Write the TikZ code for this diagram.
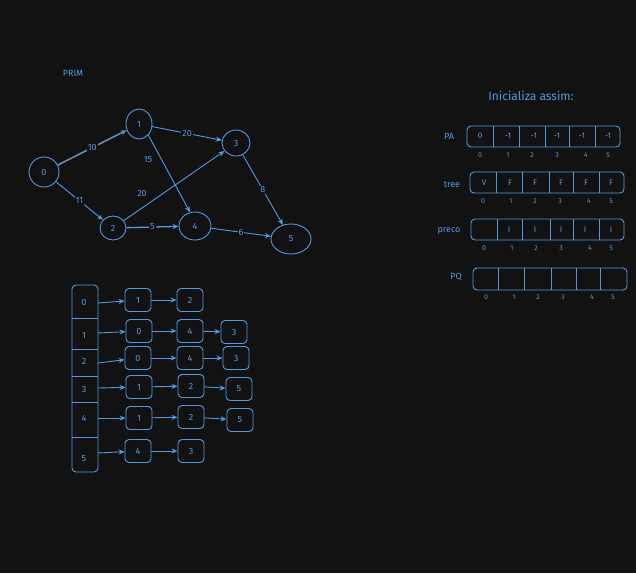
\documentclass[tikz,border=0pt]{standalone}
\usepackage{fontspec}
\setmainfont{Fira Sans}
\usetikzlibrary{arrows.meta, positioning, calc, shapes.geometric}
\definecolor{bgdark}{HTML}{121212}
\definecolor{inkblue}{RGB}{86,152,222}
\tikzset{
  vtx/.style={ellipse, draw=inkblue, line width=0.9pt, inner sep=0pt, text=inkblue, font=\small},
  wgt/.style={fill=bgdark, inner sep=1pt, text=inkblue, font=\small},
  arr/.style={-{Stealth[length=6pt,width=5pt]}, draw=inkblue, line width=0.9pt},
  arraybox/.style={draw=inkblue, line width=0.9pt, rounded corners=4pt, inner sep=0pt},
  lbl/.style={text=inkblue, font=\small},
  val/.style={text=inkblue, font=\footnotesize},
  idx/.style={text=inkblue, font=\scriptsize},
  listbox/.style={draw=inkblue, line width=0.9pt, rounded corners=4pt, minimum width=26pt, minimum height=23pt, text=inkblue, font=\small}
}

\begin{document}
\begin{tikzpicture}[x=1pt, y=-1pt]
% Background
\fill[bgdark] (0,0) rectangle (636,573);
\useasboundingbox (0,0) rectangle (636,573);

% Graph
\node[lbl] (prim) at (73,73) {PRIM};
\node[vtx, minimum width=30pt, minimum height=30pt] (v0) at (44,172) {0};
\node[vtx, minimum width=26pt, minimum height=30pt] (v1) at (139,124) {1};
\node[vtx, minimum width=26pt, minimum height=24pt] (v2) at (113,228) {2};
\node[vtx, minimum width=28pt, minimum height=26pt] (v3) at (236,143) {3};
\node[vtx, minimum width=32pt, minimum height=28pt] (v4) at (195,226) {4};
\node[vtx, minimum width=40pt, minimum height=30pt] (v5) at (291,239) {5};

\draw[arr, line width=1.5pt, draw=inkblue!75!gray] (v0) -- node[wgt] {10} (v1);
\draw[arr] (v0) -- node[wgt] {11} (v2);
\draw[arr] (v1) -- node[wgt] {20} (v3);
\draw[arr] (v1.-50) -- (v4.110);
\node[lbl] (w14) at (148,160) {15};
\draw[arr] (v2) -- (v3);
\node[lbl] (w23) at (142,193) {20};
\draw[arr, line width=1.3pt] (v2) -- node[wgt] {5} (v4);
\draw[arr] (v3) -- node[wgt] {8} (v5);
\draw[arr] (v4) -- node[wgt] {6} (v5);

% Adjacency list
\node[arraybox, minimum width=26pt, minimum height=187pt] (adj) at (85,378.5) {};
\foreach \y in {318,349,376,402,437}
  \draw[inkblue, line width=0.9pt] (72,\y) -- (98,\y);
\foreach \y/\r in {302/0, 335/1, 361/2, 389/3, 418/4, 459/5}
  \node[lbl] (row\r) at (84,\y) {\r};

\foreach \n/\x/\y/\t in {r0a/138/300/1, r0b/190/300/2,
    r1a/139/331/0, r1b/190/331/4, r1c/234/332/3,
    r2a/138/358/0, r2b/190/358/4, r2c/236/358/3,
    r3a/139/387/1, r3b/191/386/2, r3c/239/389/5,
    r4a/139/418/1, r4b/191/417/2, r4c/240/420/5,
    r5a/138/451/4, r5b/191/451/3}
  \node[listbox] (\n) at (\x,\y) {\t};

\foreach \r/\y in {0/303, 1/333, 2/363, 3/388, 4/418, 5/453}
  \coordinate (c\r) at (98,\y);
\foreach \a/\b in {c0/r0a, r0a/r0b,
    c1/r1a, r1a/r1b, r1b/r1c,
    c2/r2a, r2a/r2b, r2b/r2c,
    c3/r3a, r3a/r3b, r3b/r3c,
    c4/r4a, r4a/r4b, r4b/r4c,
    c5/r5a, r5a/r5b}
  \draw[arr] (\a) -- (\b);

% Arrays
\node[lbl, font=\large] (title) at (531,96) {Inicializa assim:};

% PA
\node[lbl] (palbl) at (449,136) {PA};
\node[arraybox, minimum width=153pt, minimum height=21pt] (pa) at (543.5,136.5) {};
\foreach \x in {493,519,545,569,595}
  \draw[inkblue, line width=0.9pt] (\x,126) -- (\x,147);
\foreach \x/\v in {480/0, 508/-1, 534/-1, 557/-1, 582/-1, 608/-1}
  \node[val] at (\x,136) {\v};
\foreach \x/\i in {480/0, 508/1, 532/2, 557/3, 586/4, 608/5}
  \node[idx] at (\x,155) {\i};

% tree
\node[lbl] (treelbl) at (452,185) {tree};
\node[arraybox, minimum width=154pt, minimum height=21pt] (tree) at (547,182.5) {};
\foreach \x in {496,522,549,573,599}
  \draw[inkblue, line width=0.9pt] (\x,172) -- (\x,193);
\foreach \x/\v in {484/V, 510/F, 535/F, 561/F, 586/F, 611/F}
  \node[val] at (\x,183) {\v};
\foreach \x/\i in {483/0, 511/1, 535/2, 560/3, 589/4, 611/5}
  \node[idx] at (\x,201) {\i};

% preco
\node[lbl] (precolbl) at (449,231) {preco};
\node[arraybox, minimum width=153pt, minimum height=21pt] (preco) at (547.5,229.5) {};
\foreach \x in {497,522,550,573,599}
  \draw[inkblue, line width=0.9pt] (\x,219) -- (\x,240);
\foreach \x/\v in {509/I, 535/I, 561/I, 585/I, 611/I}
  \node[val] at (\x,230) {\v};
\foreach \x/\i in {484/0, 512/1, 536/2, 561/3, 590/4, 611/5}
  \node[idx] at (\x,248) {\i};

% PQ
\node[lbl] (pqlbl) at (456,277) {PQ};
\node[arraybox, minimum width=154pt, minimum height=22pt] (pq) at (550,279) {};
\foreach \x in {498,524,551,576,600}
  \draw[inkblue, line width=0.9pt] (\x,268) -- (\x,290);
\foreach \x/\i in {486/0, 514/1, 538/2, 563/3, 592/4, 613/5}
  \node[idx] at (\x,297) {\i};
\end{tikzpicture}
\end{document}
